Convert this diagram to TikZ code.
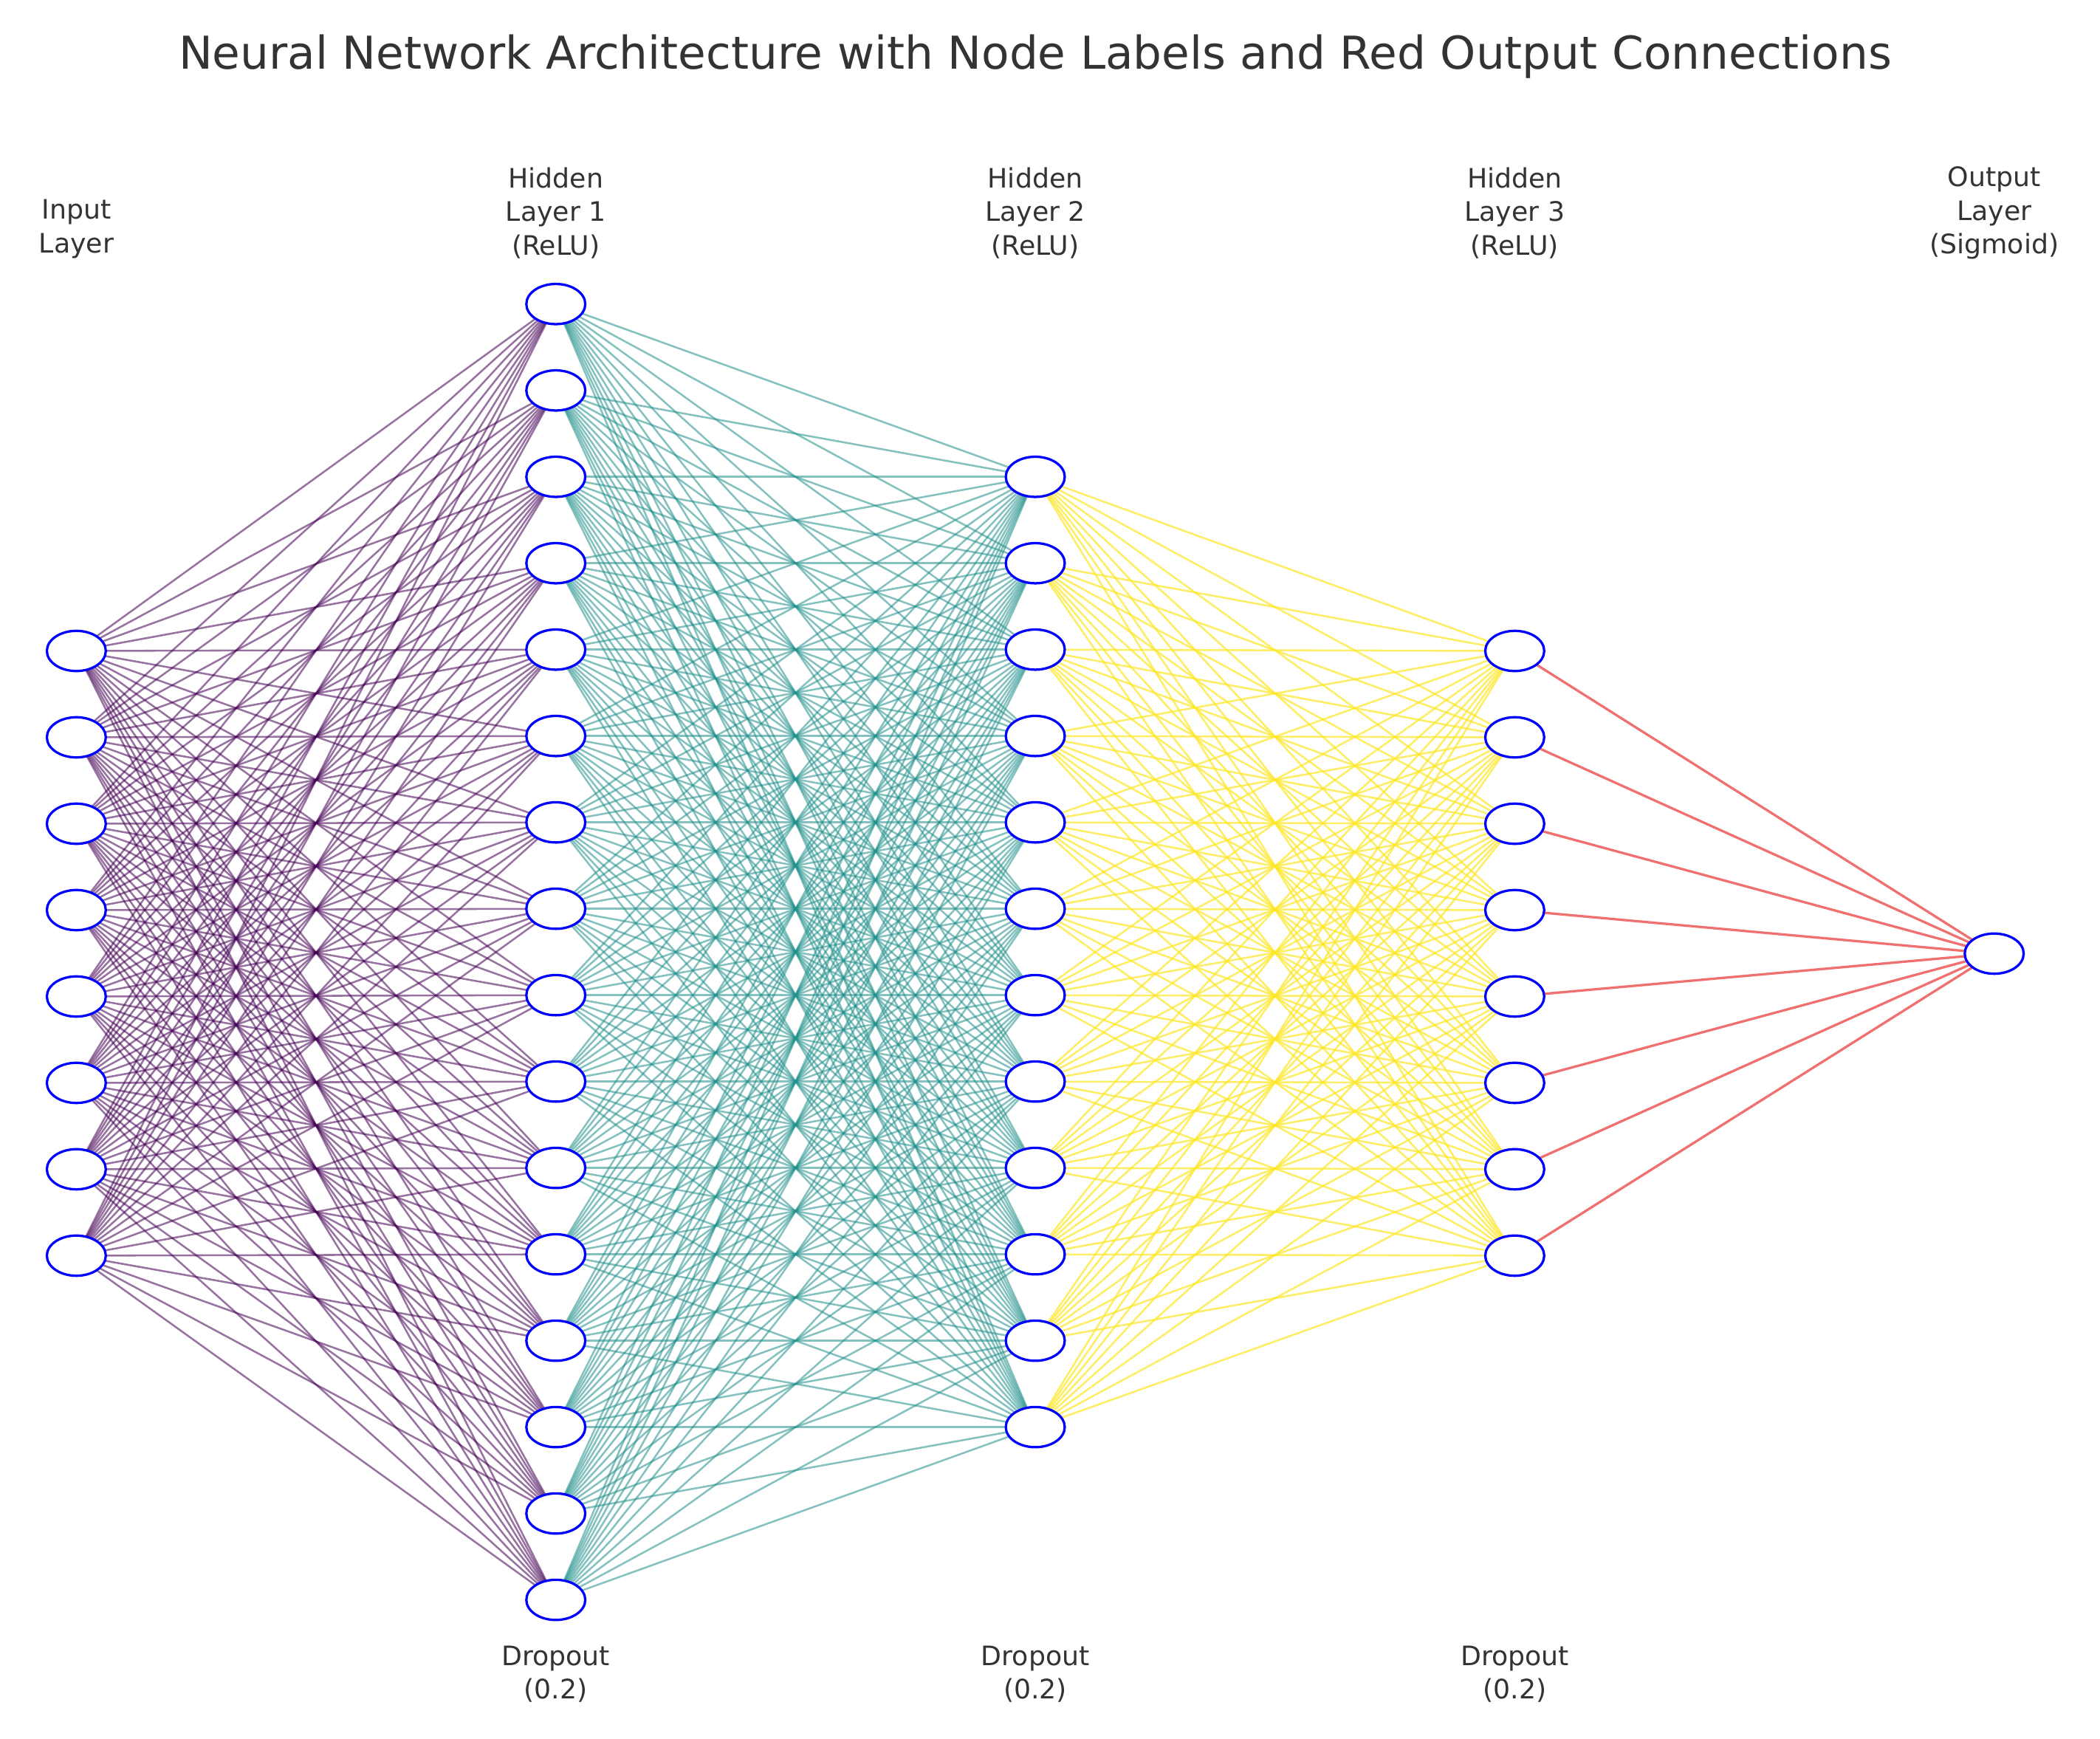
\documentclass[tikz,border=0pt]{standalone}
\usepackage{fontspec}
\setmainfont{DejaVu Sans}
\usetikzlibrary{shapes.geometric}
\pgfdeclarelayer{back}
\pgfdeclarelayer{bg}
\pgfsetlayers{back,bg,main}
\definecolor{vpurple}{HTML}{440154}
\definecolor{vteal}{HTML}{21918C}
\definecolor{vyellow}{HTML}{FDE725}
\definecolor{nred}{HTML}{F07070}
\definecolor{txt}{HTML}{333333}
\begin{document}
\begin{tikzpicture}[x=0.5pt,y=-0.5pt,
  neuron/.style={ellipse,draw=blue,line width=0.9pt,fill=white,minimum width=22pt,minimum height=15pt,inner sep=0pt},
  lab/.style={align=center,text=txt,font=\fontsize{10}{12.5}\selectfont},
  edge/.style={line width=0.7pt,opacity=0.55}]
\useasboundingbox (0,0) rectangle (1568,1298);
\begin{pgfonlayer}{back}
\fill[white] (0,0) rectangle (1568,1298);
\end{pgfonlayer}
\node[text=txt,font=\fontsize{16.9}{19}\selectfont] (title) at (773,42) {Neural Network Architecture with Node Labels and Red Output Connections};
\def\sp{64.5}
\foreach \i in {1,...,8}{\node[neuron] (n0-\i) at (57,{486+(\i-1)*\sp}) {};}
\foreach \i in {1,...,16}{\node[neuron] (n1-\i) at (415,{227+(\i-1)*\sp}) {};}
\foreach \i in {1,...,12}{\node[neuron] (n2-\i) at (773,{356+(\i-1)*\sp}) {};}
\foreach \i in {1,...,8}{\node[neuron] (n3-\i) at (1131,{486+(\i-1)*\sp}) {};}
\node[neuron] (n4-1) at (1489,712) {};
\begin{pgfonlayer}{bg}
\foreach \a in {1,...,8}{\foreach \b in {1,...,16}{\draw[edge,vpurple] (n0-\a.center) -- (n1-\b.center);}}
\foreach \a in {1,...,16}{\foreach \b in {1,...,12}{\draw[edge,vteal] (n1-\a.center) -- (n2-\b.center);}}
\foreach \a in {1,...,12}{\foreach \b in {1,...,8}{\draw[edge,vyellow,opacity=0.7] (n2-\a.center) -- (n3-\b.center);}}
\foreach \a in {1,...,8}{\draw[line width=0.9pt,nred] (n3-\a.center) -- (n4-1.center);}
\end{pgfonlayer}
\node[lab] (l0) at (57,171) {Input\\Layer};
\node[lab] (l1) at (415,159) {Hidden\\Layer 1\\(ReLU)};
\node[lab] (l2) at (773,159) {Hidden\\Layer 2\\(ReLU)};
\node[lab] (l3) at (1131,159) {Hidden\\Layer 3\\(ReLU)};
\node[lab] (l4) at (1489,159) {Output\\Layer\\(Sigmoid)};
\node[lab] (d1) at (415,1250) {Dropout\\(0.2)};
\node[lab] (d2) at (773,1250) {Dropout\\(0.2)};
\node[lab] (d3) at (1131,1250) {Dropout\\(0.2)};
\end{tikzpicture}
\end{document}
